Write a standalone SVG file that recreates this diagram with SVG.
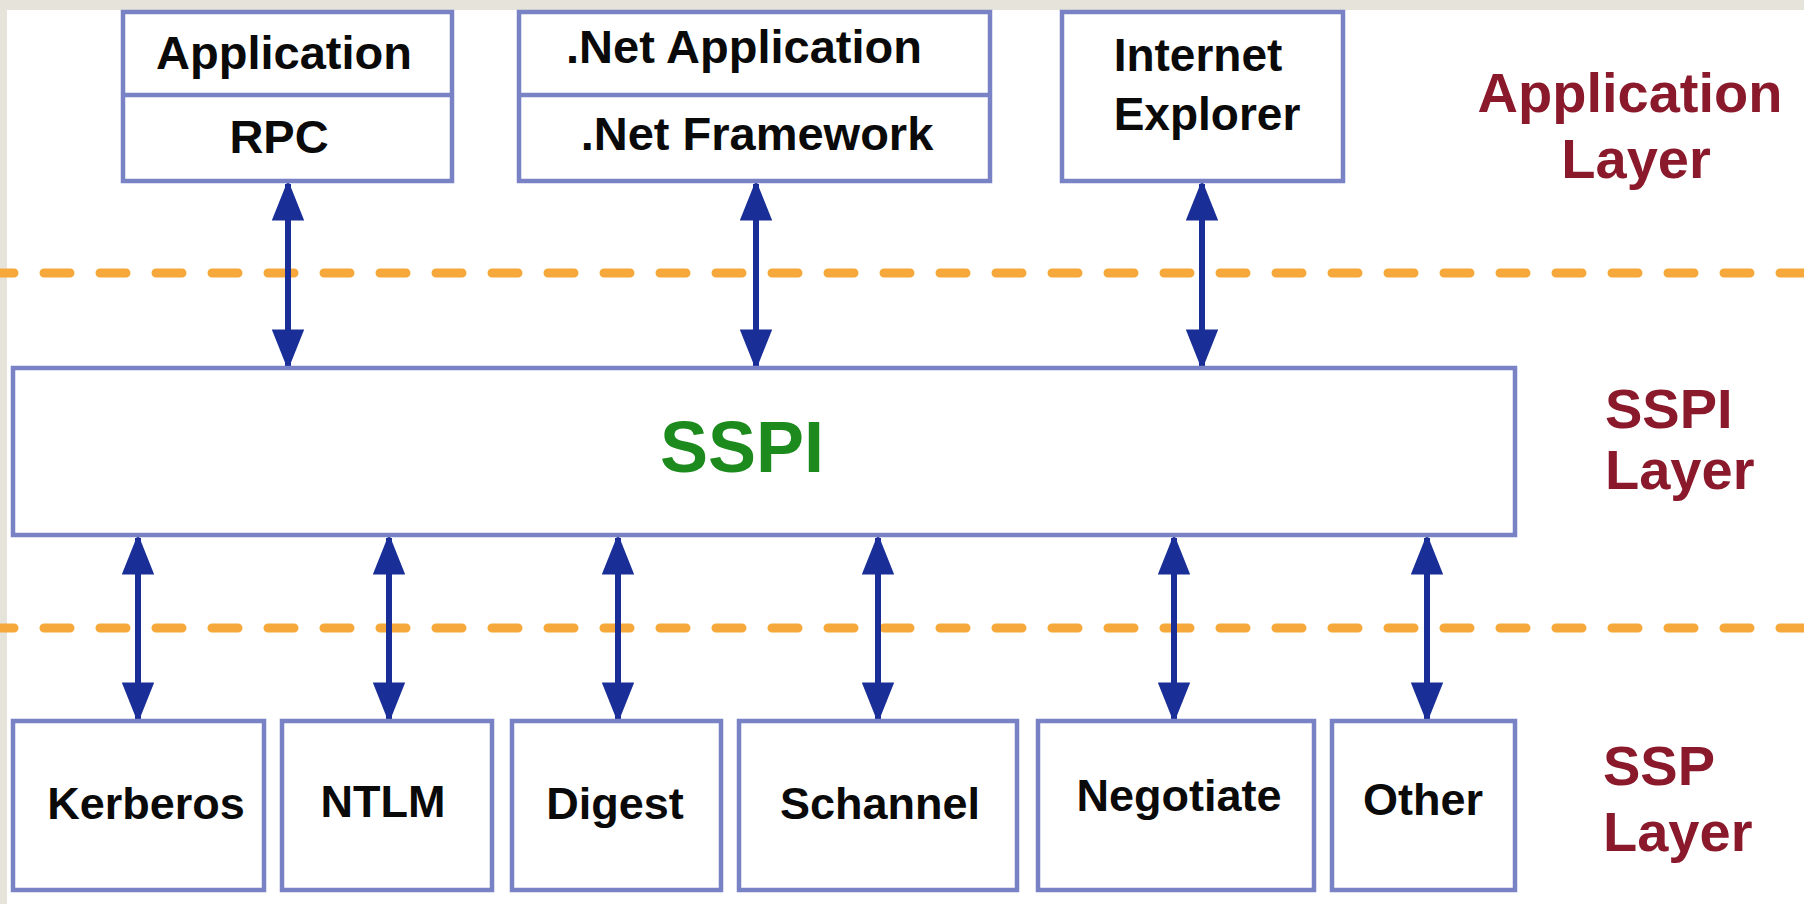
<svg xmlns="http://www.w3.org/2000/svg" width="1804" height="904" viewBox="0 0 1804 904">
<defs>
<style>
.box{fill:#ffffff;stroke:#7882c4;stroke-width:4.5}
.div{stroke:#7882c4;stroke-width:4.5}
.t{font-family:"Liberation Sans",Arial,sans-serif;font-weight:bold;fill:#0a0a0a;text-anchor:middle}
.lbl{font-family:"Liberation Sans",Arial,sans-serif;font-weight:bold;fill:#8a1a2b}
.dash{stroke:#f6a83a;stroke-width:9;stroke-linecap:round;stroke-dasharray:26 30;fill:none}
.arr{stroke:#1a2e98;stroke-width:6;fill:none;marker-start:url(#ah);marker-end:url(#ah)}
</style>
<marker id="ah" viewBox="0 0 10 8" refX="9" refY="4" markerWidth="6.8" markerHeight="5.4" markerUnits="strokeWidth" orient="auto-start-reverse">
<path d="M0,0 L10,4 L0,8 Z" fill="#1a2e98"/>
</marker>
</defs>
<rect x="0" y="0" width="1804" height="904" fill="#e6e4da"/>
<rect x="7" y="10" width="1797" height="894" fill="#ffffff"/>

<g id="separators">
<line class="dash" x1="-12" y1="273" x2="1804" y2="273"/>
<line class="dash" x1="-12" y1="628" x2="1804" y2="628"/>
</g>

<g id="connectors">
<line class="arr" x1="288" y1="184" x2="288" y2="366"/>
<line class="arr" x1="756" y1="184" x2="756" y2="366"/>
<line class="arr" x1="1202" y1="184" x2="1202" y2="366"/>
<line class="arr" x1="138" y1="538" x2="138" y2="719"/>
<line class="arr" x1="389" y1="538" x2="389" y2="719"/>
<line class="arr" x1="618" y1="538" x2="618" y2="719"/>
<line class="arr" x1="878" y1="538" x2="878" y2="719"/>
<line class="arr" x1="1174" y1="538" x2="1174" y2="719"/>
<line class="arr" x1="1427" y1="538" x2="1427" y2="719"/>
</g>

<g id="app-rpc">
<rect class="box" x="123" y="12" width="329" height="169"/>
<line class="div" x1="123" y1="95" x2="452" y2="95"/>
<text class="t" x="284" y="69" font-size="47">Application</text>
<text class="t" x="279" y="153" font-size="47">RPC</text>
</g>
<g id="net">
<rect class="box" x="519" y="12" width="471" height="169"/>
<line class="div" x1="519" y1="95" x2="990" y2="95"/>
<text class="t" x="744" y="63" font-size="47">.Net Application</text>
<text class="t" x="757" y="150" font-size="47">.Net Framework</text>
</g>
<g id="ie">
<rect class="box" x="1062" y="12" width="281" height="169"/>
<text class="t" x="1198" y="71" font-size="46">Internet</text>
<text class="t" x="1207" y="130" font-size="46">Explorer</text>
</g>

<g id="sspi">
<rect class="box" x="13" y="368" width="1502" height="167"/>
<text x="742" y="472" font-family="Liberation Sans, Arial, sans-serif" font-weight="bold" font-size="72" fill="#1c8a1c" text-anchor="middle">SSPI</text>
</g>

<g id="kerberos"><rect class="box" x="13" y="721" width="251" height="169"/><text class="t" x="146" y="819" font-size="45">Kerberos</text></g>
<g id="ntlm"><rect class="box" x="282" y="721" width="210" height="169"/><text class="t" x="383" y="817" font-size="45">NTLM</text></g>
<g id="digest"><rect class="box" x="512" y="721" width="209" height="169"/><text class="t" x="615" y="819" font-size="45">Digest</text></g>
<g id="schannel"><rect class="box" x="739" y="721" width="278" height="169"/><text class="t" x="880" y="819" font-size="45">Schannel</text></g>
<g id="negotiate"><rect class="box" x="1038" y="721" width="276" height="169"/><text class="t" x="1179" y="811" font-size="45">Negotiate</text></g>
<g id="other"><rect class="box" x="1332" y="721" width="183" height="169"/><text class="t" x="1423" y="815" font-size="45">Other</text></g>

<g id="layer-labels">
<text class="lbl" x="1630" y="112" font-size="56" text-anchor="middle">Application</text>
<text class="lbl" x="1636" y="178" font-size="56" text-anchor="middle">Layer</text>
<text class="lbl" x="1605" y="428" font-size="56">SSPI</text>
<text class="lbl" x="1605" y="489" font-size="56">Layer</text>
<text class="lbl" x="1603" y="785" font-size="56">SSP</text>
<text class="lbl" x="1603" y="851" font-size="56">Layer</text>
</g>
</svg>
